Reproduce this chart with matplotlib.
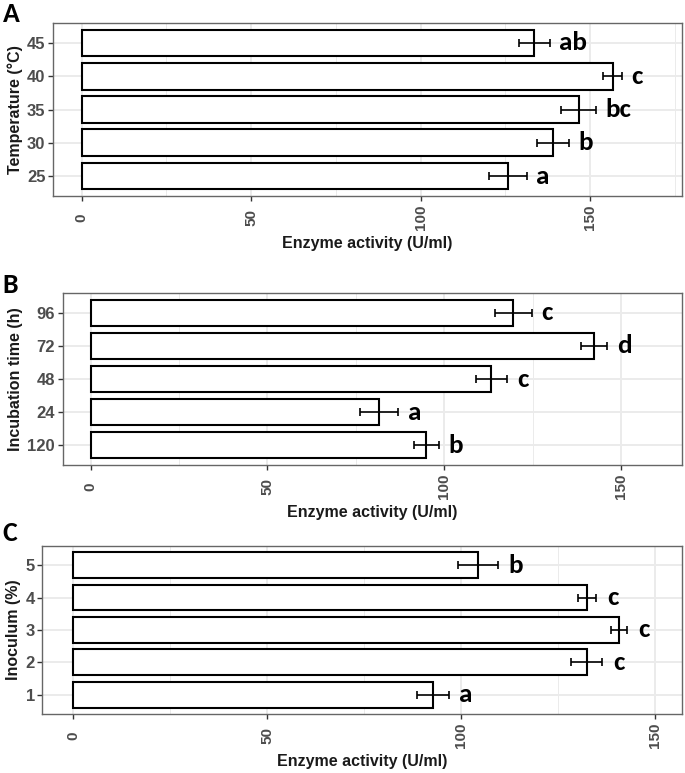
import numpy as np
import matplotlib
matplotlib.use("Agg")
import matplotlib.pyplot as plt
from matplotlib.ticker import MultipleLocator

# Panel A: temperature
temp_labels = ['25', '30', '35', '40', '45']
temp_activity = [125.6, 138.9, 146.6, 156.6, 133.5]
temp_sd = [5.6, 4.7, 5.2, 2.7, 4.6]
temp_letters = ['a', 'b', 'bc', 'c', 'ab']

# Panel B: incubation time (factor order as in the original, string sorted)
time_labels = ['120', '24', '48', '72', '96']
time_activity = [94.9, 81.6, 113.3, 142.4, 119.5]
time_sd = [3.5, 5.3, 4.4, 3.7, 5.2]
time_letters = ['b', 'a', 'c', 'd', 'c']

# Panel C: inoculum
inoc_labels = ['1', '2', '3', '4', '5']
inoc_activity = [92.8, 132.5, 140.8, 132.5, 104.4]
inoc_sd = [4.0, 4.0, 2.0, 2.4, 5.1]
inoc_letters = ['a', 'c', 'c', 'c', 'b']

xlabel = "Enzyme activity (U/ml)"

TICK_FONT = ['Liberation Sans', 'DejaVu Sans']
LETTER_FONT = ['Carlito', 'DejaVu Sans']


def draw_panel(ax, labels, values, sd, letters, ylabel, xlim):
    y = np.arange(len(labels))
    ax.set_facecolor('white')
    ax.barh(y, values, height=0.8, color='white', edgecolor='black',
            linewidth=1.5, zorder=3)
    ax.errorbar(values, y, xerr=sd, fmt='none', ecolor='black',
                elinewidth=1.2, capsize=3, capthick=1.2, zorder=4)
    for yi, v, s, lab in zip(y, values, sd, letters):
        ax.text(v + s + 2.8, yi, lab, ha='left', va='center',
                fontsize=19.5, fontweight='bold', family=LETTER_FONT, zorder=5)

    ax.set_xlim(*xlim)
    ax.set_ylim(-0.6, len(labels) - 0.4)
    ax.set_yticks(y)
    ax.set_yticklabels(labels)
    ax.xaxis.set_major_locator(MultipleLocator(50))
    ax.xaxis.set_minor_locator(MultipleLocator(25))
    ax.grid(which='major', color='#EBEBEB', linewidth=1.4, zorder=0)
    ax.grid(which='minor', axis='x', color='#EBEBEB', linewidth=0.7, zorder=0)
    ax.set_axisbelow(True)
    ax.tick_params(axis='both', which='major', length=3.5, width=1.0,
                   color='#333333', labelcolor='#4D4D4D')
    ax.tick_params(axis='x', which='minor', length=0)
    ax.tick_params(axis='x', pad=12)
    ax.tick_params(axis='y', pad=2)
    for t in ax.get_xticklabels():
        t.set_rotation(90)
        t.set_va('center')
        t.set_family(TICK_FONT)
        t.set_fontweight('bold')
        t.set_fontsize(11)
    for t in ax.get_yticklabels():
        t.set_family(TICK_FONT)
        t.set_fontweight('bold')
        t.set_fontsize(12)
    for sp in ax.spines.values():
        sp.set_color('#666666')
        sp.set_linewidth(1.0)
    ax.set_xlabel(xlabel, fontsize=11.5, fontweight='bold', family=TICK_FONT,
                  color='#1A1A1A', labelpad=4)
    ax.set_ylabel(ylabel, fontsize=11.5, fontweight='bold', family=TICK_FONT,
                  color='#1A1A1A', labelpad=3)


fig = plt.figure(figsize=(6.85, 7.73), dpi=100)
fig.patch.set_facecolor('white')

axA = fig.add_axes([0.0774, 0.7464, 0.918, 0.2238])
axB = fig.add_axes([0.0915, 0.3984, 0.904, 0.2225])
axC = fig.add_axes([0.062, 0.0763, 0.9336, 0.2177])

draw_panel(axA, temp_labels, temp_activity, temp_sd, temp_letters,
           "Temperature (°C)", (-8.4, 177))
draw_panel(axB, time_labels, time_activity, time_sd, time_letters,
           "Incubation time (h)", (-7.9, 167.2))
draw_panel(axC, inoc_labels, inoc_activity, inoc_sd, inoc_letters,
           "Inoculum (%)", (-7.9, 157))

for lab, ypx in zip(['A', 'B', 'C'], [14, 285, 533]):
    fig.text(0.004, 1 - ypx / 773, lab, ha='left', va='center',
             fontsize=20, fontweight='bold', family=LETTER_FONT)

fig.savefig('out.png', dpi=100)
